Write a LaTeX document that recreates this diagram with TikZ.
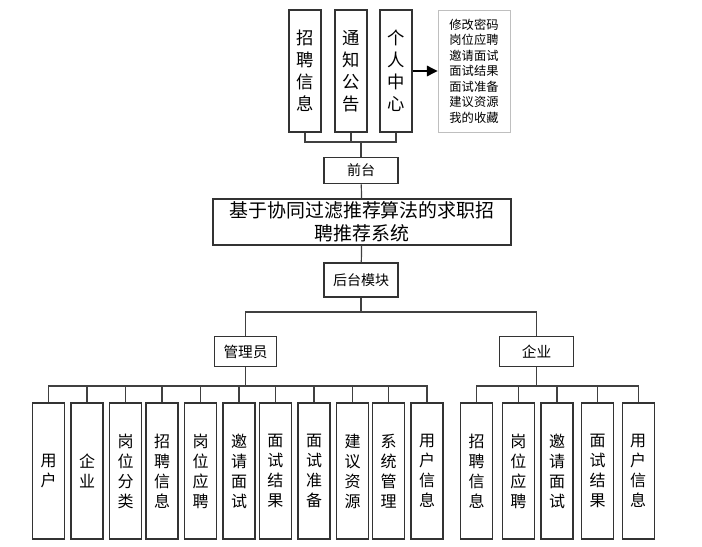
\documentclass[tikz,border=0pt]{standalone}
\usepackage{fontspec}
\setmainfont{Noto Sans CJK SC}
\usetikzlibrary{arrows.meta,positioning,calc}
\tikzset{
  vbox/.style={rectangle, draw=black!80, line width=0.9pt, align=center, inner sep=0pt,
               minimum width=24pt, minimum height=102pt, font=\fontsize{12}{15}\selectfont},
  topbox/.style={vbox, minimum height=91.5pt, font=\fontsize{13}{16.5}\selectfont},
  hbox/.style={rectangle, draw=black!80, line width=0.9pt, align=center, inner sep=0pt,
               minimum height=20pt, font=\fontsize{10.5}{12}\selectfont},
  listbox/.style={rectangle, draw=black!25, line width=0.7pt, align=left, inner sep=0pt,
                  minimum width=54pt, minimum height=91.5pt, font=\fontsize{9.2}{11.6}\selectfont},
  ln/.style={draw=black!75, line width=0.9pt},
  fl/.style={-{Triangle[length=8pt,width=8pt]}, line width=0.9pt},
}
\begin{document}
\begin{tikzpicture}[x=0.75pt,y=-0.75pt]
\useasboundingbox (0,0) rectangle (702,546);
% front end
\node[topbox] (t1) at (305,71) {招\\聘\\信\\息};
\node[topbox] (t2) at (351,71) {通\\知\\公\\告};
\node[topbox] (t3) at (396,71) {个\\人\\中\\心};
\node[listbox] (lst) at (474,71) {修改密码\\岗位应聘\\邀请面试\\面试结果\\面试准备\\建议资源\\我的收藏};
\node[hbox, minimum width=55.5pt] (qt) at (361,170.5) {前台};
\node[hbox, minimum width=223.5pt, minimum height=34.5pt,
      font=\fontsize{14.2}{17}\selectfont] (sys) at (362,222) {基于协同过滤推荐算法的求职招\\聘推荐系统};
\node[hbox, minimum width=55.5pt, minimum height=25.5pt] (ht) at (361,280) {后台模块};
% roles
\node[hbox, minimum width=47pt, minimum height=22pt, font=\fontsize{11}{12}\selectfont] (adm) at (245.5,351.5) {管理员};
\node[hbox, minimum width=55pt, minimum height=22pt, font=\fontsize{11}{12}\selectfont] (ent) at (536.5,351.5) {企业};
% admin modules
\node[vbox] (a1) at (48.5,471) {用\\户};
\node[vbox] (a2) at (87,471) {企\\业};
\node[vbox] (a3) at (125.7,471) {岗\\位\\分\\类};
\node[vbox] (a4) at (162,471) {招\\聘\\信\\息};
\node[vbox] (a5) at (200.5,471) {岗\\位\\应\\聘};
\node[vbox] (a6) at (239,471) {邀\\请\\面\\试};
\node[vbox] (a7) at (275.3,471) {面\\试\\结\\果};
\node[vbox] (a8) at (314,471) {面\\试\\准\\备};
\node[vbox] (a9) at (352.5,471) {建\\议\\资\\源};
\node[vbox] (a10) at (388.7,471) {系\\统\\管\\理};
\node[vbox] (a11) at (427,471) {用\\户\\信\\息};
% enterprise modules
\node[vbox] (e1) at (476.5,471) {招\\聘\\信\\息};
\node[vbox] (e2) at (518.3,471) {岗\\位\\应\\聘};
\node[vbox] (e3) at (557,471) {邀\\请\\面\\试};
\node[vbox] (e4) at (597.5,471) {面\\试\\结\\果};
\node[vbox] (e5) at (638.2,471) {用\\户\\信\\息};
% junctions
\coordinate (jq) at (361,142);
\coordinate (jh) at (361,312);
\coordinate (ja) at (245.5,386);
\coordinate (je) at (536.5,386);
% connectors
\draw[fl] (t3.east) -- (lst.west);
\draw[ln] (t1.south) |- (t3.south |- jq) -- (t3.south);
\draw[ln] (t2.south) -- (t2.south |- jq);
\draw[ln] (qt.north) -- (jq);
\draw[ln] (qt) -- (sys);
\draw[ln] (sys) -- (ht);
\draw[ln] (ht.south) -- (jh);
\draw[ln] (adm.north) |- (jh) -| (ent.north);
\draw[ln] (adm.south) -- (ja);
\draw[ln] (ent.south) -- (je);
\draw[ln] (a1.north) |- (a11.north |- ja) -- (a11.north);
\foreach \i in {2,...,10}
  \draw[ln] (a\i.north) -- (a\i.north |- ja);
\draw[ln] (e1.north) |- (e5.north |- je) -- (e5.north);
\foreach \i in {2,3,4}
  \draw[ln] (e\i.north) -- (e\i.north |- je);
\end{tikzpicture}
\end{document}
